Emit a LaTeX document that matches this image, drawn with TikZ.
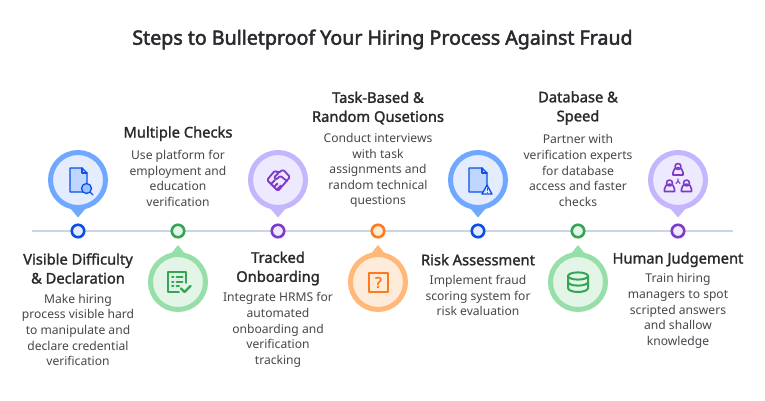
\documentclass[tikz,border=0pt]{standalone}
\usepackage{fontspec}
\setmainfont{Noto Sans}
\newfontfamily\headfont{Noto Sans}[FakeBold=1.6]
\newfontfamily\titlefont{Noto Sans}[FakeBold=2.4]
\newfontfamily\qfont{Noto Sans}[FakeBold=3]
\definecolor{inkc}{HTML}{2A2A2E}
\definecolor{bodyc}{HTML}{45474C}
\definecolor{linec}{HTML}{C9D5E3}
\definecolor{bluering}{HTML}{70A8FF}\definecolor{bluein}{HTML}{E3EDFF}\definecolor{blueic}{HTML}{0B4FE8}\definecolor{bluedoc}{HTML}{BFD7FF}
\definecolor{purring}{HTML}{C4B5FD}\definecolor{purin}{HTML}{EDE9FE}\definecolor{puric}{HTML}{7E3BC9}
\definecolor{grering}{HTML}{97DFA8}\definecolor{grein}{HTML}{E2F5E6}\definecolor{greic}{HTML}{35A455}
\definecolor{oraring}{HTML}{FFB877}\definecolor{orain}{HTML}{FFEBD9}\definecolor{oraic}{HTML}{FF7A1A}
\tikzset{
 x=1pt,y=-1pt,
 headtxt/.style={align=center,inner sep=0pt,text=inkc,font=\headfont\fontsize{14.7}{19}\selectfont},
 bodytxt/.style={align=center,inner sep=0pt,text=bodyc,font=\fontsize{12.1}{15.6}\selectfont},
 marker/.style={circle,draw=#1,line width=2.6pt,minimum size=12.5pt,inner sep=0pt},
 bubble/.style n args={2}{circle,draw=#1,fill=#2,line width=5pt,minimum size=55pt,inner sep=0pt},
 ic/.style={line width=1.3pt,line join=round,line cap=round},
}
\begin{document}
\begin{tikzpicture}
\useasboundingbox (0,0) rectangle (765,400);
\fill[white] (0,0) rectangle (765,400);
\node[inner sep=0pt,text=inkc,font=\titlefont\fontsize{19.6}{20}\selectfont] (title) at (382.5,39.5) {Steps to Bulletproof Your Hiring Process Against Fraud};
\coordinate (lineL) at (32,231); \coordinate (lineR) at (733,231);
\draw[linec,line width=1.6pt] (lineL) -- (lineR);
% markers
\node[marker=blueic,fill=bluein] (m1) at (78,231) {};
\node[marker=greic,fill=grein] (m2) at (178,231) {};
\node[marker=puric,fill=purin] (m3) at (278,231) {};
\node[marker=oraic,fill=orain] (m4) at (378,231) {};
\node[marker=blueic,fill=bluein] (m5) at (478,231) {};
\node[marker=greic,fill=grein] (m6) at (578,231) {};
\node[marker=puric,fill=purin] (m7) at (678,231) {};
% bubble tips
\fill[bluering] (70,208) -- (78,217.5) -- (86,208) -- cycle;
\fill[grering] (170,255) -- (178,245) -- (186,255) -- cycle;
\fill[purring] (270,208) -- (278,217.5) -- (286,208) -- cycle;
\fill[oraring] (370,255) -- (378,245) -- (386,255) -- cycle;
\fill[bluering] (470,208) -- (478,217.5) -- (486,208) -- cycle;
\fill[grering] (570,255) -- (578,245) -- (586,255) -- cycle;
\fill[purring] (670,208) -- (678,217.5) -- (686,208) -- cycle;
% bubbles
\node[bubble={bluering}{bluein}] (b1) at (78,180) {};
\node[bubble={grering}{grein}] (b2) at (178,282) {};
\node[bubble={purring}{purin}] (b3) at (278,180) {};
\node[bubble={oraring}{orain}] (b4) at (378,282) {};
\node[bubble={bluering}{bluein}] (b5) at (478,180) {};
\node[bubble={grering}{grein}] (b6) at (578,282) {};
\node[bubble={purring}{purin}] (b7) at (678,180) {};
% icon 1
\begin{scope}[shift={(78,180)},ic,blueic]
\draw[fill=bluedoc] (-8,-12) -- (4,-12) -- (9,-7) -- (9,12) -- (-8,12) -- cycle;
\draw (4,-12) -- (4,-7) -- (9,-7);
\draw[fill=bluering!70,draw=blueic] (8.5,8.5) circle (5);
\draw (12,12) -- (15,15);
\end{scope}
% icon 2
\begin{scope}[shift={(178,282)},ic,greic]
\draw[line width=1.8pt,fill=greic!15] (8,1) -- (8,-10) -- (-10,-10) -- (-10,10) -- (1,10);
\draw[line width=2pt] (-6,-5) -- (-4.5,-5) (-1.5,-5) -- (4.5,-5) (-6,-0.5) -- (-4.5,-0.5) (-1.5,-0.5) -- (4.5,-0.5) (-6,4) -- (-4.5,4) (-1.5,4) -- (1,4);
\draw[line width=2.2pt] (3,6.5) -- (6.5,10) -- (12.5,4);
\end{scope}
% icon 3 handshake
\begin{scope}[shift={(278,180)},ic,puric,line width=1.8pt]
\draw[rounded corners=1.5pt] (-11,0) -- (-3,-9.5) -- (0.5,-7) -- (5,-10.5) -- (12,-3) -- (0,11) -- cycle;
\draw (-6.5,3.5) -- (-3,0) (-3.5,6.5) -- (-0.5,3.5) (-0.5,9) -- (3,5.5);
\draw[rounded corners=1pt] (0.5,-7) -- (-4,-2.5) -- (-2,-0.5) -- (2.5,-4) -- (9,1);
\end{scope}
% icon 4 question
\begin{scope}[shift={(378.5,282.5)},ic,oraic]
\draw[line width=2pt] (-9.5,-9.5) rectangle (9.5,9.5);
\node[inner sep=0pt,text=oraic,font=\qfont\fontsize{15}{15}\selectfont] (q4) at (0,0) {?};
\end{scope}
% icon 5
\begin{scope}[shift={(478,180)},ic,blueic]
\draw[fill=bluedoc] (-9,-12) -- (4,-12) -- (9,-7) -- (9,12) -- (-9,12) -- cycle;
\draw (4,-12) -- (4,-7) -- (9,-7);
\draw[fill=bluein] (9,5) -- (14,14) -- (4,14) -- cycle;
\draw[line width=.9pt] (9,8) -- (9,10.5) (9,12.4) -- (9,12.5);
\end{scope}
% icon 6 database
\begin{scope}[shift={(578,282)},ic,greic,line width=2pt]
\draw (-10,-6) -- (-10,6) arc[start angle=180,end angle=0,x radius=10,y radius=4] -- (10,-6);
\draw (-10,-6) arc[start angle=180,end angle=-180,x radius=10,y radius=3.6];
\draw (-10,0) arc[start angle=180,end angle=0,x radius=10,y radius=3.6];
\end{scope}
% icon 7 team
\begin{scope}[shift={(678,180)},ic,puric,line width=1.6pt]
\foreach \dx/\dy in {0/-11.5,-8.5/5,8.5/5}{
 \draw (\dx,\dy-2) circle (3);
 \draw (\dx-5,\dy+6.5) -- (\dx-5,\dy+4) arc[start angle=180,end angle=360,radius=5] -- (\dx+5,\dy+6.5) -- cycle;
}
\draw[line width=1.1pt] (0,-1) -- (0,1) (0,1) -- (-2,3.5) (0,1) -- (2,3.5);
\end{scope}
% texts
\node[headtxt] (h1) at (78,268.5) {Visible Difficulty\\\& Declaration};
\node[bodytxt] (d1) at (78,330) {Make hiring\\process visible hard\\to manipulate and\\declare credential\\verification};
\node[headtxt] (h2) at (178,133.7) {Multiple Checks};
\node[bodytxt] (d2) at (178,178.5) {Use platform for\\employment and\\education\\verification};
\node[headtxt] (h3) at (278,268.5) {Tracked\\Onboarding};
\node[bodytxt] (d3) at (278,330) {Integrate HRMS for\\automated\\onboarding and\\verification\\tracking};
\node[headtxt] (h4) at (378,108) {Task-Based \&\\Random Qusetions};
\node[bodytxt] (d4) at (378,170.5) {Conduct interviews\\with task\\assignments  and\\random technical\\questions};
\node[headtxt] (h5) at (478,259.7) {Risk Assessment};
\node[bodytxt] (d5) at (478,295.5) {Implement fraud\\scoring system for\\risk evaluation};
\node[headtxt] (h6) at (578,108) {Database \&\\Speed};
\node[bodytxt] (d6) at (578,170.5) {Partner with\\verification experts\\for database\\access and faster\\checks};
\node[headtxt] (h7) at (678,259.7) {Human Judgement};
\node[bodytxt] (d7) at (678,311) {Train hiring\\managers to spot\\scripted answers\\and shallow\\knowledge};
\end{tikzpicture}
\end{document}
